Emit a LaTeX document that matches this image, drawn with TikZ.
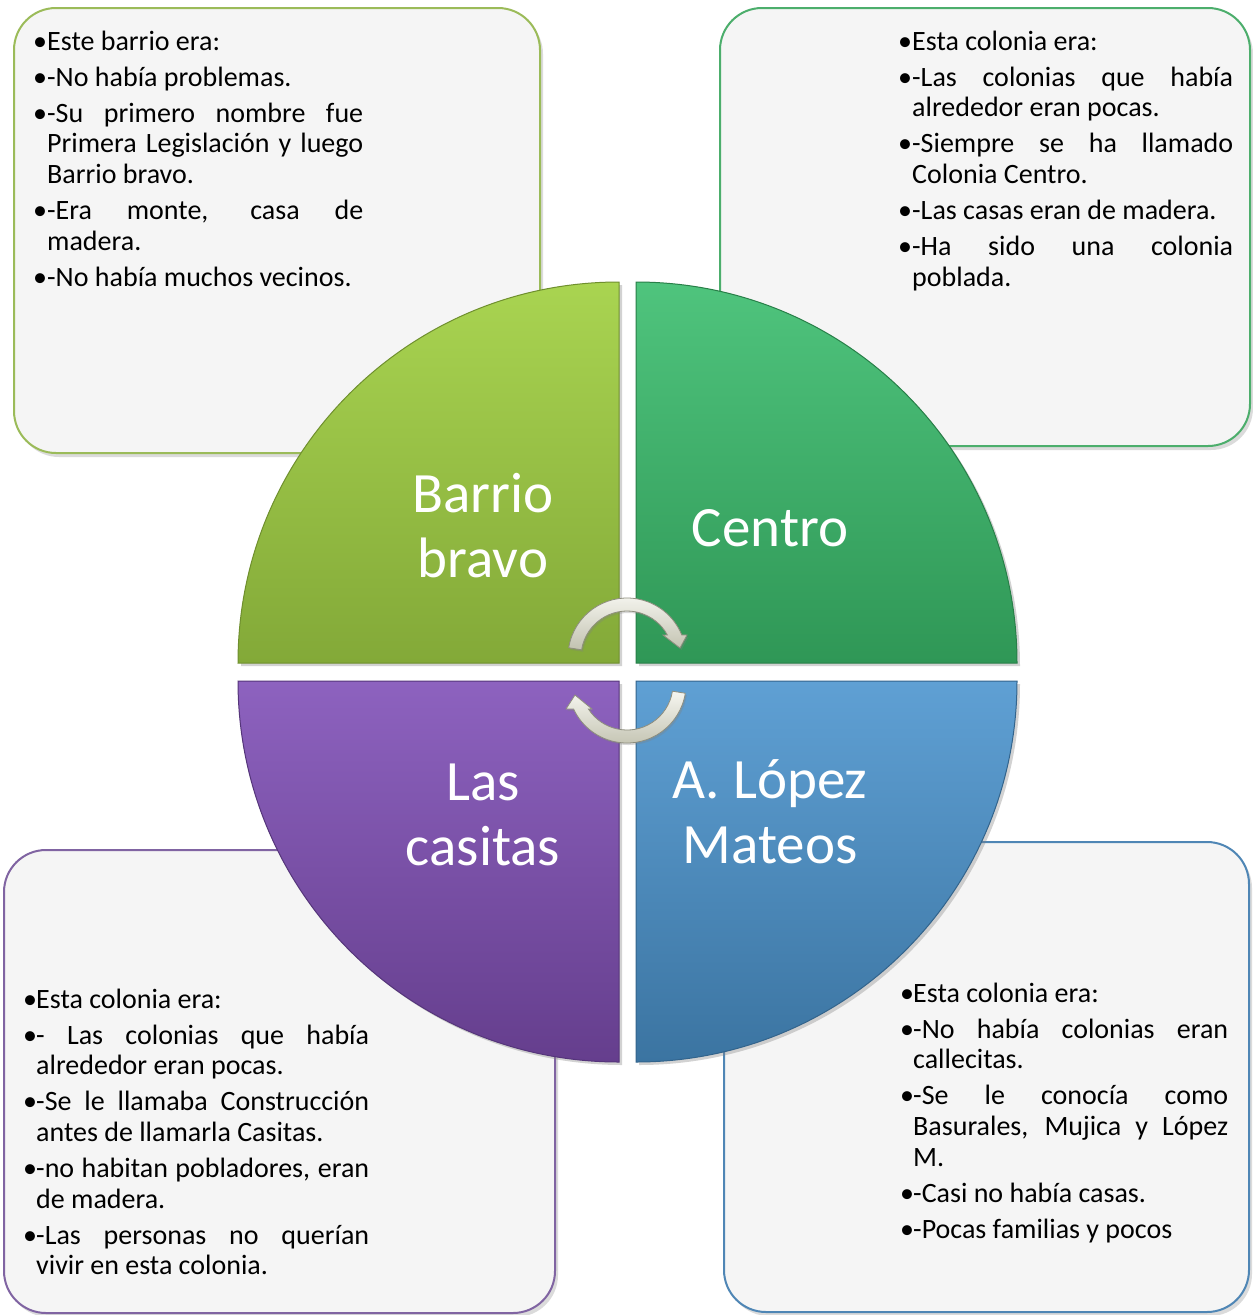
\documentclass[tikz,border=0pt]{standalone}
\usepackage{fontspec}
\setmainfont{Carlito}
\usetikzlibrary{shadows,calc}
\definecolor{boxfill}{HTML}{F5F5F5}
\definecolor{tlLine}{HTML}{9BBB59}
\definecolor{trLine}{HTML}{4CAE6C}
\definecolor{blLine}{HTML}{8064A2}
\definecolor{brLine}{HTML}{4F86B5}
\definecolor{tlTop}{HTML}{A9D451}
\definecolor{tlBot}{HTML}{83A938}
\definecolor{tlEdge}{HTML}{6F8F2E}
\definecolor{trTop}{HTML}{4FC47D}
\definecolor{trBot}{HTML}{2F9756}
\definecolor{trEdge}{HTML}{287F48}
\definecolor{blTop}{HTML}{8D62BF}
\definecolor{blBot}{HTML}{653E8D}
\definecolor{blEdge}{HTML}{55357A}
\definecolor{brTop}{HTML}{5FA0D4}
\definecolor{brBot}{HTML}{3B74A1}
\definecolor{brEdge}{HTML}{33648C}
\definecolor{arTop}{HTML}{F6F6F0}
\definecolor{arBot}{HTML}{C2C2B0}
\definecolor{arEdge}{HTML}{8E8E7E}
\newlength\bh
\newcommand\Jl[1]{\makebox[\dimexpr\hsize-\bh\relax][s]{#1}\break}
\newcommand\It{\par\hangindent=\bh\hangafter=1\noindent\makebox[\bh][l]{•}}
\newcommand\Blk[3]{\parbox[t]{#1}{\setlength\bh{#2}\raggedright\setlength\parskip{5.3pt}#3}}
\begin{document}
\begin{tikzpicture}[x=1pt,y=-1pt,
  infobox/.style={line width=2pt, fill=boxfill, rounded corners=42pt,
    drop shadow={opacity=0.28, shadow xshift=3pt, shadow yshift=-4pt}},
  quad/.style={line width=1pt,
    drop shadow={opacity=0.35, shadow xshift=3pt, shadow yshift=-3pt}},
  boxtxt/.style={anchor=base west, inner sep=0pt, text=black,
    font=\fontsize{28}{30.7}\selectfont},
  lbl/.style={anchor=base, inner sep=0pt, text=white,
    font=\fontsize{57}{65}\selectfont},
  curvarrow/.style={draw=arEdge, line width=0.8pt, top color=arTop, bottom color=arBot,
    drop shadow={opacity=0.3, shadow xshift=1.5pt, shadow yshift=-2pt}}]
\useasboundingbox (0,0) rectangle (1253,1315);
\fill[white] (0,0) rectangle (1253,1315);

% info boxes
\path[infobox, draw=tlLine] (14,8) rectangle (540,453);
\path[infobox, draw=trLine] (720,8) rectangle (1250,446);
\path[infobox, draw=blLine] (4,850) rectangle (555,1313);
\path[infobox, draw=brLine] (724,842) rectangle (1249,1312);

% quadrants
\path[quad, draw=tlEdge, top color=tlTop, bottom color=tlBot]
  (619,663) -- (238,663) arc[start angle=180, end angle=270, radius=381] -- cycle;
\path[quad, draw=trEdge, top color=trTop, bottom color=trBot]
  (636,663) -- (636,282) arc[start angle=270, end angle=360, radius=381] -- cycle;
\path[quad, draw=brEdge, top color=brTop, bottom color=brBot]
  (636,681) -- (1017,681) arc[start angle=0, end angle=90, radius=381] -- cycle;
\path[quad, draw=blEdge, top color=blTop, bottom color=blBot]
  (619,681) -- (619,1062) arc[start angle=90, end angle=180, radius=381] -- cycle;

% quadrant labels
\node[lbl] (bb) at (483,512) {\parbox[t]{320pt}{\centering Barrio\\bravo}};
\node[lbl] (ce) at (770,546) {Centro};
\node[lbl] (lc) at (483,800) {\parbox[t]{320pt}{\centering Las\\casitas}};
\node[lbl] (lm) at (770,798) {\parbox[t]{320pt}{\centering A. López\\Mateos}};

% circular arrows
\coordinate (c1) at (627,657);
\coordinate (c2) at (627,684);
\path[curvarrow] ($(c1)+(189:59)$) arc[start angle=189, end angle=338, radius=59]
  -- (687,635) -- (680,648) -- (663,635) -- ($(c1)+(331.4:46)$)
  arc[start angle=331.4, end angle=189, radius=46] -- cycle;
\path[curvarrow] ($(c2)+(9:59)$) arc[start angle=9, end angle=154.9, radius=59]
  -- (566,709) -- (575,695) -- (592,709) -- ($(c2)+(147.1:46)$)
  arc[start angle=147.1, end angle=9, radius=46] -- cycle;

% box texts
\node[boxtxt] (t1) at (33,50) {\Blk{330pt}{14pt}{%
\It Este barrio era:
\It -No había problemas.
\It \Jl{-Su primero nombre fue}\Jl{Primera Legislación y luego}Barrio bravo.
\It \Jl{-Era monte, casa de}madera.
\It -No había muchos vecinos.}};
\node[boxtxt] (t2) at (898,50) {\Blk{335pt}{14pt}{%
\It Esta colonia era:
\It \Jl{-Las colonias que había}alrededor eran pocas.
\It \Jl{-Siempre se ha llamado}Colonia Centro.
\It -Las casas eran de madera.
\It \Jl{-Ha sido una colonia}poblada.}};
\node[boxtxt] (t3) at (23,1008) {\Blk{346pt}{13pt}{%
\It Esta colonia era:
\It \Jl{- Las colonias que había}alrededor eran pocas.
\It \Jl{-Se le llamaba Construcción}antes de llamarla Casitas.
\It \Jl{-no habitan pobladores, eran}de madera.
\It \Jl{-Las personas no querían}vivir en esta colonia.}};
\node[boxtxt] (t4) at (900,1002) {\Blk{328pt}{13pt}{%
\It Esta colonia era:
\It \Jl{-No había colonias eran}callecitas.
\It \Jl{-Se le conocía como}\Jl{Basurales, Mujica y López}M.
\It -Casi no había casas.
\It -Pocas familias y pocos}};
\end{tikzpicture}
\end{document}
